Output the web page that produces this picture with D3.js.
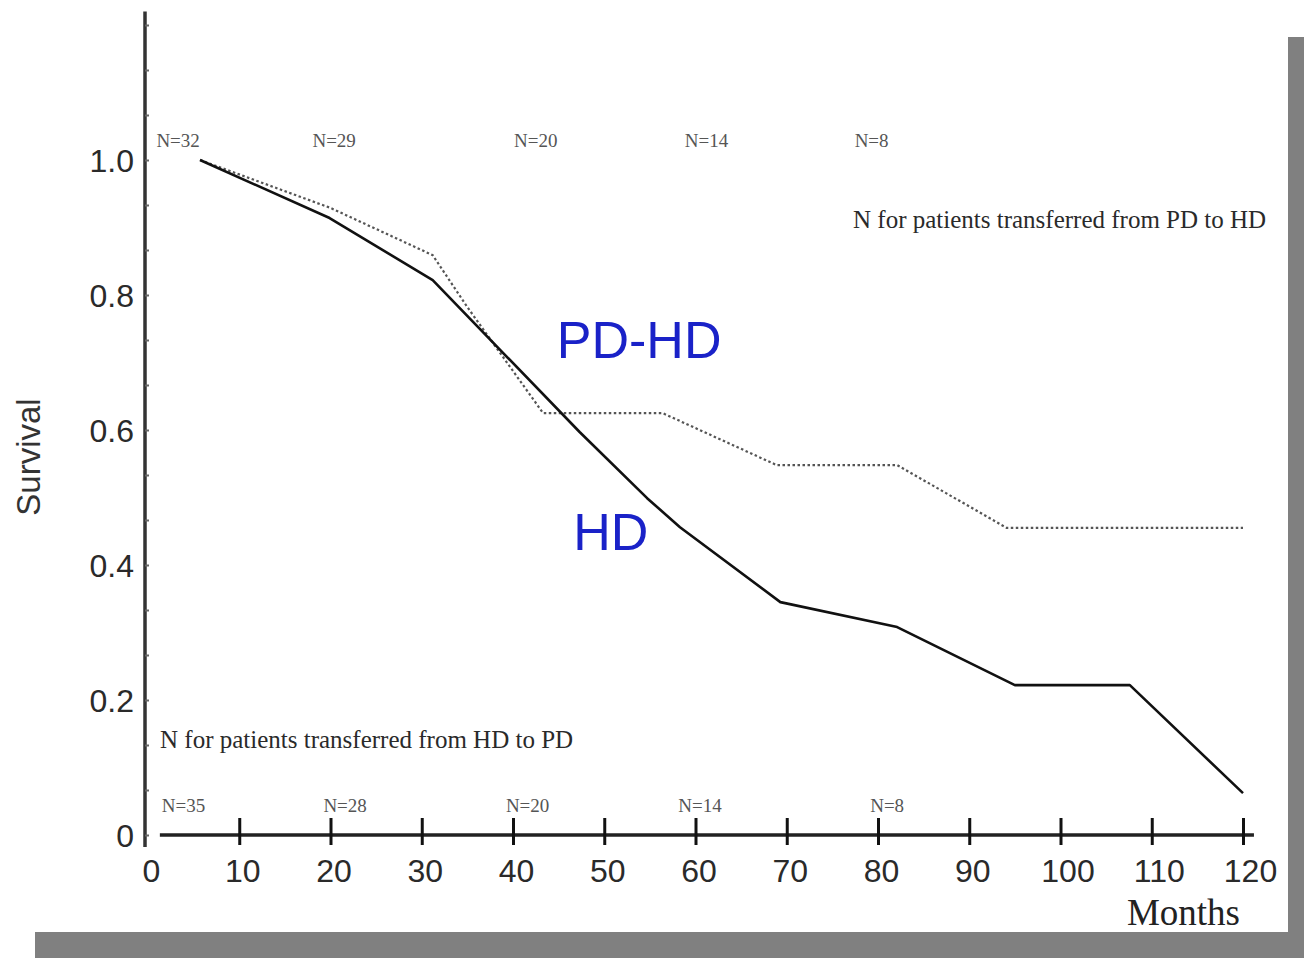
<!DOCTYPE html>
<html>
<head>
<meta charset="utf-8">
<script src="https://cdn.jsdelivr.net/npm/d3@7/dist/d3.min.js"></script>
<style>
    body { margin: 0; background: #fff; }
    svg { display: block; }
</style>
</head>
<body>
<div id="chart"></div>
<script>
// values
var monthTicks = [0, 10, 20, 30, 40, 50, 60, 70, 80, 90, 100, 110, 120];
var survivalTicks = [0, 0.2, 0.4, 0.6, 0.8, 1.0];

var hdMonths   = [5.7, 19.9, 31.2, 47.3, 54.7, 58.3, 69.3, 82.1, 95.0, 107.6, 120];
var hdSurvival = [1.0, 0.914, 0.822, 0.597, 0.499, 0.456, 0.345, 0.308, 0.222, 0.222, 0.062];

var pdhdMonths   = [5.7, 20, 31.2, 35.0, 43.3, 56.4, 68.9, 82.1, 94.1, 120];
var pdhdSurvival = [1.0, 0.929, 0.859, 0.782, 0.625, 0.625, 0.548, 0.548, 0.455, 0.455];

var topNLabels = ['N=32', 'N=29', 'N=20', 'N=14', 'N=8'];
var topNMonths = [3.3, 20.4, 42.5, 61.2, 79.3];
var bottomNLabels = ['N=35', 'N=28', 'N=20', 'N=14', 'N=8'];
var bottomNMonths = [3.9, 21.6, 41.6, 60.5, 81];

var W = 1304, H = 958;
var SANS = 'Arial, "Liberation Sans", sans-serif';
var SERIF = '"Times New Roman", "Liberation Serif", serif';

var svg = d3.select('#chart').append('svg')
    .attr('width', W).attr('height', H);

// grey drop shadow of the figure frame
svg.append('rect').attr('x', 1288).attr('y', 37).attr('width', 16).attr('height', H - 37).attr('fill', '#808080');
svg.append('rect').attr('x', 35).attr('y', 932).attr('width', W - 35).attr('height', 26).attr('fill', '#808080');

var x = d3.scaleLinear().domain([0, 120]).range([148, 1243]);
var y = d3.scaleLinear().domain([0, 1]).range([835, 160]);

// y axis: long vertical line with little marks every 1/15
var yAxisX = x(0) - 3;
svg.append('line')
    .attr('x1', yAxisX).attr('x2', yAxisX)
    .attr('y1', y(1.22)).attr('y2', y(0) + 12)
    .attr('stroke', '#333').attr('stroke-width', 3.5);

var minor = d3.range(0, 19).map(function(i){ return i / 15; });
svg.append('g')
    .attr('transform', 'translate(' + yAxisX + ',0)')
    .call(d3.axisRight(y).tickValues(minor).tickSize(4).tickFormat(''))
    .call(function(g){
        g.select('.domain').remove();
        g.selectAll('line').attr('stroke', '#666').attr('stroke-width', 2);
    });

svg.append('g')
    .attr('transform', 'translate(' + (yAxisX - 8) + ',0)')
    .call(d3.axisLeft(y).tickValues(survivalTicks).tickSize(0)
        .tickFormat(function(d){ return d === 0 ? '0' : d3.format('.1f')(d); }))
    .call(function(g){
        g.select('.domain').remove();
        g.selectAll('text')
            .attr('font-family', SANS).attr('font-size', 32)
            .attr('fill', '#2a2a2a').attr('dy', '0.36em');
    });

// x axis
svg.append('line')
    .attr('x1', x(1.3)).attr('x2', x(121.2))
    .attr('y1', y(0)).attr('y2', y(0))
    .attr('stroke', '#222').attr('stroke-width', 3.5);

svg.append('g')
    .attr('transform', 'translate(0,' + y(0) + ')')
    .call(d3.axisBottom(x).tickValues(monthTicks).tickSize(0).tickPadding(0))
    .call(function(g){
        g.select('.domain').remove();
        g.selectAll('.tick line')
            .attr('y1', -17).attr('y2', 10)
            .attr('stroke', '#111').attr('stroke-width', 3)
            .attr('display', function(d){ return d === 0 ? 'none' : null; });
        g.selectAll('.tick text')
            .attr('font-family', SANS).attr('font-size', 32)
            .attr('fill', '#2a2a2a')
            .attr('y', 47).attr('dy', 0)
            .attr('dx', function(d){ return d >= 100 ? 7 : 3; });
    });

// axis titles
svg.append('text')
    .attr('transform', 'translate(40,' + y(0.56) + ') rotate(-90)')
    .attr('text-anchor', 'middle')
    .attr('font-family', SANS).attr('font-size', 33).attr('fill', '#333')
    .text('Survival');

svg.append('text')
    .attr('x', 1240).attr('y', 925)
    .attr('text-anchor', 'end')
    .attr('font-family', SERIF).attr('font-size', 37).attr('fill', '#222')
    .text('Months');

// survival curves
var line = d3.line()
    .x(function(d){ return x(d[0]); })
    .y(function(d){ return y(d[1]); });

var pdhd = pdhdMonths.map(function(m, i){ return [m, pdhdSurvival[i]]; });
var hd = hdMonths.map(function(m, i){ return [m, hdSurvival[i]]; });

svg.append('path')
    .datum(pdhd)
    .attr('d', line)
    .attr('fill', 'none')
    .attr('stroke', '#555')
    .attr('stroke-width', 2.2)
    .attr('stroke-dasharray', '2.5,2.5');

svg.append('path')
    .datum(hd)
    .attr('d', line)
    .attr('fill', 'none')
    .attr('stroke', '#111')
    .attr('stroke-width', 2.6)
    .attr('stroke-linejoin', 'round');

// series names
svg.append('text')
    .attr('x', x(44.8)).attr('y', y(0.707))
    .attr('font-family', SANS).attr('font-size', 52).attr('fill', '#1a22c8')
    .text('PD-HD');
svg.append('text')
    .attr('x', x(46.6)).attr('y', y(0.422))
    .attr('font-family', SANS).attr('font-size', 52).attr('fill', '#1a22c8')
    .text('HD');

// numbers at risk
svg.append('g').selectAll('text')
    .data(topNLabels)
    .enter().append('text')
        .attr('x', function(d, i){ return x(topNMonths[i]); })
        .attr('y', 147)
        .attr('text-anchor', 'middle')
        .attr('font-family', SERIF).attr('font-size', 19).attr('fill', '#555')
        .text(function(d){ return d; });

svg.append('g').selectAll('text')
    .data(bottomNLabels)
    .enter().append('text')
        .attr('x', function(d, i){ return x(bottomNMonths[i]); })
        .attr('y', 812)
        .attr('text-anchor', 'middle')
        .attr('font-family', SERIF).attr('font-size', 19).attr('fill', '#555')
        .text(function(d){ return d; });

svg.append('text')
    .attr('x', 853).attr('y', 228)
    .attr('font-family', SERIF).attr('font-size', 25).attr('fill', '#2a2a2a')
    .text('N for patients transferred from PD to HD');

svg.append('text')
    .attr('x', 160).attr('y', 748)
    .attr('font-family', SERIF).attr('font-size', 25).attr('fill', '#2a2a2a')
    .text('N for patients transferred from HD to PD');
</script>
</body>
</html>
